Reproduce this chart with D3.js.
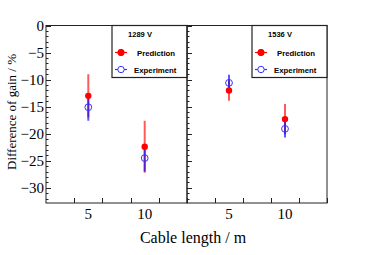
<!DOCTYPE html>
<meta charset="utf-8">
<script src="https://d3js.org/d3.v7.min.js"></script>
<style>
  body { margin: 0; background: #fff; }
  .serif { font-family: "Liberation Serif", "Times New Roman", serif; }
  .sans { font-family: "Liberation Sans", Arial, sans-serif; font-weight: bold; }
</style>
<svg id="chart" width="374" height="255"></svg>
<script>

// data
var voltages = ["1289 V", "1536 V"];
var cableLabels = ["5", "10"];
var cableBins = [1.5, 3.5];           // bin centres on the category axis
var predVal = [[-13.0, -22.4], [-12.0, -17.3]];
var predErr = [[4.0, 4.8], [1.9, 2.8]];
var expVal = [[-15.1, -24.5], [-10.6, -19.1]];
var expErr = [[2.5, 2.5], [1.5, 1.6]];
var yTicks = [0, -5, -10, -15, -20, -25, -30];

var svg = d3.select("#chart");
var top_ = 25.5, bottom = 203;
var panelX = [[46, 187], [187, 327]];

var y = d3.scaleLinear().domain([-32.8, 0]).range([bottom, top_]);
var axisCol = "#222";

panelX.forEach(function(px, p) {
  var x = d3.scaleLinear().domain([0, 5]).range(px);
  var g = svg.append("g");

  // frame
  g.append("rect")
    .attr("x", px[0]).attr("y", top_)
    .attr("width", px[1] - px[0]).attr("height", bottom - top_)
    .attr("fill", "none").attr("stroke", axisCol).attr("stroke-width", 1);

  // y minor + major ticks
  d3.range(-32, 1, 1).forEach(function(v) {
    var major = v % 5 == 0;
    g.append("line")
      .attr("x1", px[0]).attr("x2", px[0] + (major ? 5 : 2.5))
      .attr("y1", Math.round(y(v)) + 0.5).attr("y2", Math.round(y(v)) + 0.5)
      .attr("stroke", axisCol).attr("stroke-width", 1);
  });

  // x ticks at bin edges
  [1, 2, 3, 4, 5].forEach(function(b) {
    g.append("line")
      .attr("x1", Math.round(x(b)) + 0.5).attr("x2", Math.round(x(b)) + 0.5)
      .attr("y1", bottom).attr("y2", bottom - 5)
      .attr("stroke", axisCol).attr("stroke-width", 1);
  });

  // x labels
  g.selectAll(".xl").data(cableLabels).enter().append("text")
    .attr("class", "serif")
    .attr("x", function(d, i) { return x(cableBins[i]); })
    .attr("y", 219)
    .attr("text-anchor", "middle")
    .attr("font-size", 15)
    .text(function(d) { return d; });

  // error bars
  cableBins.forEach(function(b, i) {
    var cx = x(b);
    g.append("line")
      .attr("x1", cx).attr("x2", cx)
      .attr("y1", y(predVal[p][i] + predErr[p][i])).attr("y2", y(predVal[p][i] - predErr[p][i]))
      .attr("stroke", "rgba(255,0,0,0.65)").attr("stroke-width", 2);
    g.append("line")
      .attr("x1", cx).attr("x2", cx)
      .attr("y1", y(expVal[p][i] + expErr[p][i])).attr("y2", y(expVal[p][i] - expErr[p][i]))
      .attr("stroke", "rgba(0,0,255,0.65)").attr("stroke-width", 2);
  });
  cableBins.forEach(function(b, i) {
    var cx = x(b);
    g.append("circle")
      .attr("cx", cx).attr("cy", y(predVal[p][i])).attr("r", 3.2)
      .attr("fill", "#f00");
    g.append("circle")
      .attr("cx", cx).attr("cy", y(expVal[p][i])).attr("r", 3.4)
      .attr("fill", "none").attr("stroke", "#33f").attr("stroke-width", 1);
  });

  // legend
  var lx = px[1] - 75, ly = top_;
  var lg = g.append("g");
  lg.append("rect")
    .attr("x", lx).attr("y", ly).attr("width", 75).attr("height", 52)
    .attr("fill", "#fff").attr("stroke", axisCol).attr("stroke-width", 1.2);
  lg.append("text")
    .attr("class", "sans")
    .attr("x", lx + 28).attr("y", ly + 11.5)
    .attr("text-anchor", "middle")
    .attr("font-size", 7.5)
    .text(voltages[p]);
  var items = [["Prediction", "#f00", true], ["Experiment", "#33f", false]];
  items.forEach(function(it, k) {
    var yy = ly + 27 + k * 17;
    lg.append("line")
      .attr("x1", lx + 3).attr("x2", lx + 15).attr("y1", yy).attr("y2", yy)
      .attr("stroke", it[1]).attr("stroke-width", 1.2);
    lg.append("circle")
      .attr("cx", lx + 9).attr("cy", yy).attr("r", 3.2)
      .attr("fill", it[2] ? it[1] : "#fff")
      .attr("stroke", it[1]).attr("stroke-width", 1);
    lg.append("text")
      .attr("class", "sans")
      .attr("x", lx + (k == 0 ? 25 : 22)).attr("y", yy + 3)
      .attr("font-size", 7.8)
      .text(it[0]);
  });
});

// y labels
svg.selectAll(".yl").data(yTicks).enter().append("text")
  .attr("class", "serif")
  .attr("x", 44).attr("y", function(d) { return y(d) + 5; })
  .attr("text-anchor", "end")
  .attr("font-size", 15)
  .text(function(d) { return d < 0 ? "\u2212" + (-d) : d; });

// axis titles
svg.append("text")
  .attr("class", "serif")
  .attr("transform", "translate(16,112) rotate(-90)")
  .attr("text-anchor", "middle")
  .attr("font-size", 13)
  .text("Difference of gain / %");

svg.append("text")
  .attr("class", "serif")
  .attr("x", 193).attr("y", 243)
  .attr("text-anchor", "middle")
  .attr("font-size", 16)
  .text("Cable length / m");

</script>
